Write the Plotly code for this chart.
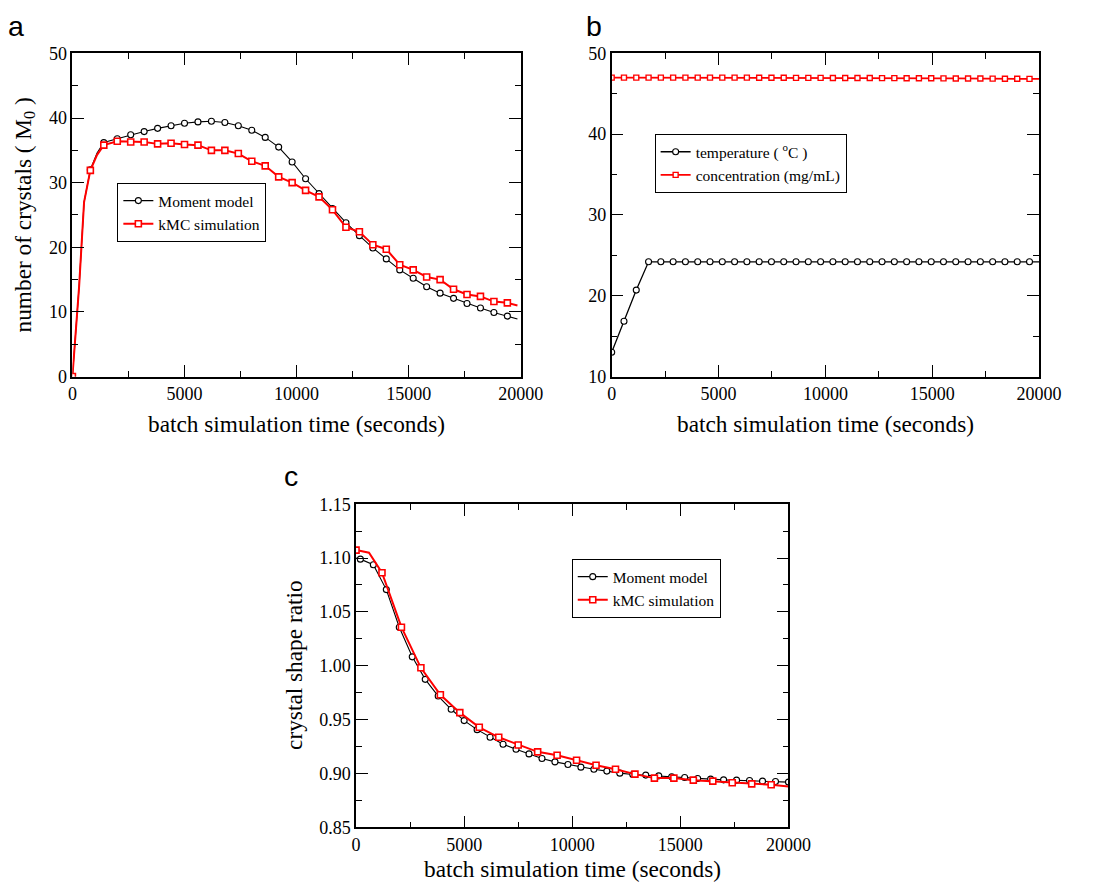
import plotly.graph_objects as go

W, H = 1107, 886

# ---------------- data ----------------
a_t = [0, 800, 1400, 2000, 2600, 3200, 3800, 4400, 5000, 5600, 6200, 6800, 7400, 8000,
       8600, 9200, 9800, 10400, 11000, 11600, 12200, 12800, 13400, 14000, 14600, 15200,
       15800, 16400, 17000, 17600, 18200, 18800, 19400]
a_moment = [0, 32.0, 36.2, 36.8, 37.4, 37.9, 38.4, 38.8, 39.2, 39.4, 39.5, 39.3, 38.8, 38.1,
            37.0, 35.5, 33.2, 30.6, 28.3, 26.0, 23.8, 21.8, 19.9, 18.2, 16.5, 15.2,
            13.9, 12.9, 12.1, 11.3, 10.6, 9.9, 9.35]
a_kmc = [0, 31.9, 35.8, 36.4, 36.3, 36.3, 36.0, 36.1, 35.9, 35.8, 35.0, 35.0, 34.5, 33.3,
         32.6, 30.9, 30.0, 28.8, 27.8, 25.8, 23.1, 22.4, 20.4, 19.7, 17.3, 16.5,
         15.4, 15.0, 13.5, 12.7, 12.4, 11.6, 11.4]
a_extra_t = [300, 520, 1100, 19850]
a_moment_extra = [14.0, 27.0, 34.6, 8.9]
a_kmc_extra = [14.0, 27.0, 34.3, 11.0]

b_t = [0, 575, 1150, 1725, 2300, 2875, 3450, 4025, 4600, 5175, 5750, 6325, 6900, 7475,
       8050, 8625, 9200, 9775, 10350, 10925, 11500, 12075, 12650, 13225, 13800, 14375,
       14950, 15525, 16100, 16675, 17250, 17825, 18400, 18975, 19550]
b_temp = [13.0, 16.85, 20.7, 24.2, 24.2, 24.2, 24.2, 24.2, 24.2, 24.2, 24.2, 24.2, 24.2, 24.2,
          24.2, 24.2, 24.2, 24.2, 24.2, 24.2, 24.2, 24.2, 24.2, 24.2, 24.2, 24.2,
          24.2, 24.2, 24.2, 24.2, 24.2, 24.2, 24.2, 24.2, 24.2]
b_conc = [47.0, 47.0, 47.0, 47.0, 47.0, 47.0, 47.0, 47.0, 47.0, 47.0, 47.0, 47.0, 46.98, 46.98,
          46.98, 46.97, 46.97, 46.97, 46.96, 46.96, 46.95, 46.95, 46.94, 46.94, 46.93, 46.92,
          46.92, 46.91, 46.90, 46.90, 46.89, 46.88, 46.87, 46.86, 46.85]
b_extra_t = [20000]
b_temp_extra = [24.2]
b_conc_extra = [46.84]

c_moment_t = [200, 800, 1400, 2000, 2600, 3200, 3800, 4400, 5000, 5600, 6200, 6800, 7400,
              8000, 8600, 9200, 9800, 10400, 11000, 11600, 12200, 12800, 13400, 14000,
              14600, 15200, 15800, 16400, 17000, 17600, 18200, 18800, 19400, 20000]
c_moment = [1.099, 1.0938, 1.0707, 1.0358, 1.0083, 0.9874, 0.9719, 0.9596, 0.9491, 0.9407,
            0.9336, 0.9272, 0.9225, 0.9182, 0.9139, 0.9108, 0.9083, 0.9059, 0.9040, 0.9022,
            0.9003, 0.8991, 0.8985, 0.8978, 0.8969, 0.8963, 0.8954, 0.8948, 0.8941, 0.8938,
            0.8935, 0.8929, 0.8926, 0.8920]
c_moment_extra_t = [0]
c_moment_extra = [1.100]
c_kmc_t = [0, 1200, 2100, 3000, 3900, 4800, 5700, 6600, 7500, 8400, 9300, 10200, 11100,
           12000, 12900, 13800, 14700, 15600, 16500, 17400, 18300, 19200]
c_kmc = [1.1074, 1.0864, 1.0358, 0.9981, 0.9731, 0.9565, 0.9429, 0.9336, 0.9265, 0.9201,
         0.9170, 0.9123, 0.9077, 0.9040, 0.8994, 0.8957, 0.8957, 0.8938, 0.8929, 0.8914,
         0.8904, 0.8895]
c_kmc_extra_t = [600, 20000]
c_kmc_extra = [1.105, 0.888]

SERIF = "Liberation Serif, Times New Roman, serif"
SANS = "Liberation Sans, Arial, sans-serif"
BLACK = "#000000"
RED = "#ff0000"

# The photographed page shows the figure slightly inset/scaled; positions below are
# target pixel positions in the photo, mapped back into paper coordinates.
SX, OX = 0.976, 5.5
SY, OY = 0.980, 8.5


def px_x(p):
    return ((p - OX) / SX) / W


def px_y(p):
    return 1 - ((p - OY) / SY) / H


def merged(t1, y1, t2, y2):
    pts = sorted(zip(list(t1) + list(t2), list(y1) + list(y2)))
    return [p[0] for p in pts], [p[1] for p in pts]


fig = go.Figure()


def add_series(xa, ya, t, y, et, ey, name, color, lw, symbol, msize, mlw, legend):
    lt, ly = merged(t, y, et, ey)
    fig.add_trace(go.Scatter(x=lt, y=ly, mode="lines", line=dict(color=color, width=lw),
                             xaxis=xa, yaxis=ya, showlegend=False, hoverinfo="skip"))
    fig.add_trace(go.Scatter(x=t, y=y, mode="markers",
                             marker=dict(symbol=symbol, size=msize, color="white",
                                         line=dict(color=color, width=mlw)),
                             xaxis=xa, yaxis=ya, showlegend=False))
    fig.add_trace(go.Scatter(x=[None], y=[None], mode="lines+markers", name=name,
                             line=dict(color=color, width=lw),
                             marker=dict(symbol=symbol, size=msize, color="white",
                                         line=dict(color=color, width=mlw)),
                             xaxis=xa, yaxis=ya, legend=legend))


add_series("x", "y", a_t, a_moment, a_extra_t, a_moment_extra, "Moment model", BLACK, 1.1,
           "circle", 6, 1.1, "legend")
add_series("x", "y", a_t, a_kmc, a_extra_t, a_kmc_extra, "kMC simulation", RED, 2,
           "square", 6, 1.6, "legend")
add_series("x2", "y2", b_t, b_temp, b_extra_t, b_temp_extra, "temperature ( <sup>o</sup>C )",
           BLACK, 1.3, "circle", 6, 1.1, "legend2")
add_series("x2", "y2", b_t, b_conc, b_extra_t, b_conc_extra, "concentration (mg/mL)", RED, 1.8,
           "square", 5, 1.4, "legend2")
add_series("x3", "y3", c_moment_t, c_moment, c_moment_extra_t, c_moment_extra, "Moment model",
           BLACK, 1.1, "circle", 6, 1.1, "legend3")
add_series("x3", "y3", c_kmc_t, c_kmc, c_kmc_extra_t, c_kmc_extra, "kMC simulation", RED, 2,
           "square", 6, 1.6, "legend3")

tickfont = dict(family=SERIF, size=18, color=BLACK)


def axis_style(domain, rng, dtick, minor_dtick, anchor, fmt):
    return dict(domain=domain, range=rng, dtick=dtick, tick0=rng[0], anchor=anchor,
                tickformat=fmt,
                showgrid=False, zeroline=False, showline=True, linecolor=BLACK, linewidth=1.5,
                mirror="ticks", ticks="inside", ticklen=12, tickwidth=1.3, tickcolor=BLACK,
                minor=dict(ticks="inside", ticklen=6, tickwidth=1.3, tickcolor=BLACK,
                           dtick=minor_dtick, showgrid=False),
                tickfont=tickfont)


a_dom_x = [px_x(73), px_x(522)]
b_dom_x = [px_x(613), px_x(1041)]
ab_dom_y = [px_y(376), px_y(52)]
c_dom_x = [px_x(357), px_x(790)]
c_dom_y = [px_y(828), px_y(504)]

legend_common = dict(bgcolor="white", bordercolor=BLACK, borderwidth=1,
                     font=dict(family=SERIF, size=15.5, color=BLACK),
                     xanchor="left", yanchor="top", tracegroupgap=0, itemwidth=30)

fig.update_layout(
    width=W, height=H, margin=dict(l=0, r=0, t=0, b=0),
    paper_bgcolor="white", plot_bgcolor="white",
    xaxis=axis_style(a_dom_x, [0, 20000], 5000, 2500, "y", "d"),
    yaxis=axis_style(ab_dom_y, [0, 50], 10, 5, "x", "d"),
    xaxis2=axis_style(b_dom_x, [0, 20000], 5000, 2500, "y2", "d"),
    yaxis2=axis_style(ab_dom_y, [10, 50], 10, 5, "x2", "d"),
    xaxis3=axis_style(c_dom_x, [0, 20000], 5000, 2500, "y3", "d"),
    yaxis3=axis_style(c_dom_y, [0.85, 1.15], 0.05, 0.025, "x3", ".2f"),
    legend=dict(x=px_x(118), y=px_y(182), **legend_common),
    legend2=dict(x=px_x(656), y=px_y(133), **legend_common),
    legend3=dict(x=px_x(573), y=px_y(559), **legend_common),
    showlegend=True,
)

title_font = dict(family=SERIF, size=23.3, color=BLACK)
annotations = [
    dict(text="batch simulation time (seconds)", x=px_x(297.5), y=px_y(424)),
    dict(text="number of crystals ( M<sub>0</sub> )", x=px_x(25), y=px_y(214), textangle=-90),
    dict(text="batch simulation time (seconds)", x=px_x(827), y=px_y(424)),
    dict(text="batch simulation time (seconds)", x=px_x(573.5), y=px_y(870)),
    dict(text="crystal shape ratio", x=px_x(295), y=px_y(666), textangle=-90),
]
for a in annotations:
    a.update(xref="paper", yref="paper", showarrow=False, font=title_font,
             xanchor="center", yanchor="middle")
    fig.add_annotation(**a)

letter_font = dict(family=SANS, size=28.5, color=BLACK)
for txt, x, y in [("a", 17, 25), ("b", 595, 25), ("c", 292, 476)]:
    fig.add_annotation(text=txt, x=px_x(x), y=px_y(y), xref="paper", yref="paper",
                       showarrow=False, font=letter_font, xanchor="center", yanchor="middle")

fig.write_html("out.html")
